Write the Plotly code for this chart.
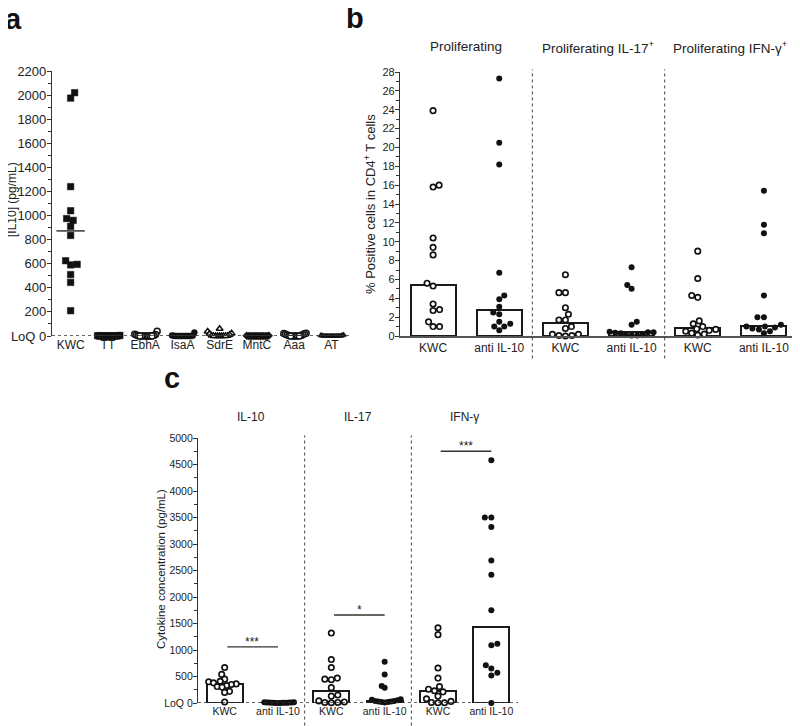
import numpy as np
import plotly.graph_objects as go

# reference canvas is 800x726; the page body adds an 8 px margin, so the
# figure is drawn 8 px smaller and every reference pixel position is shifted.
REF_W, REF_H = 800, 726
OFF = 8
W, H = REF_W - OFF, REF_H - OFF
FONT = "Liberation Sans, Arial, Helvetica, sans-serif"
TXT = "#222222"
AX = "#333333"

# ---------------- data: panel a ----------------
a_categories = ["KWC", "TT", "EbhA", "IsaA", "SdrE", "MntC", "Aaa", "AT"]
a_kwc = [2020, 1975, 1240, 1040, 975, 960, 910, 835, 625, 595, 590, 510, 445, 210]
a_tt = [5, 3, 2, 0, 0, 0, 0, 0, 0, 0, 0, 0, 0, 0]
a_ebha = [40, 15, 12, 8, 5, 3, 0, 0, 0, 0, 0, 0, 0, 0]
a_isaa = [30, 5, 3, 2, 0, 0, 0, 0, 0, 0, 0, 0, 0, 0]
a_sdre = [60, 38, 22, 18, 10, 5, 3, 0, 0, 0, 0, 0, 0, 0]
a_mntc = [3, 2, 0, 0, 0, 0, 0, 0, 0, 0, 0, 0, 0, 0]
a_aaa = [22, 20, 18, 15, 10, 8, 5, 3, 0, 0, 0, 0, 0, 0]
a_at = [10, 6, 4, 2, 0, 0, 0, 0, 0, 0, 0, 0, 0, 0]
a_values = [a_kwc, a_tt, a_ebha, a_isaa, a_sdre, a_mntc, a_aaa, a_at]
a_tickvals = [0, 200, 400, 600, 800, 1000, 1200, 1400, 1600, 1800, 2000, 2200]
a_ticktext = ["LoQ 0", "200", "400", "600", "800", "1000", "1200", "1400", "1600", "1800", "2000", "2200"]

# ---------------- data: panel b ----------------
b_categories = ["KWC", "anti IL-10", "KWC", "anti IL-10", "KWC", "anti IL-10"]
b_groups = ["Proliferating", "Proliferating IL-17<sup>+</sup>", "Proliferating IFN-γ<sup>+</sup>"]
b_prolif_kwc = [23.9, 16.0, 15.8, 10.4, 9.4, 8.6, 5.6, 5.3, 3.4, 2.8, 2.7, 1.5, 1.0, 1.0]
b_prolif_anti = [27.3, 20.5, 18.2, 6.7, 4.3, 3.9, 3.1, 2.5, 2.3, 1.5, 1.3, 1.0, 1.0, 0.6]
b_il17_kwc = [6.5, 4.6, 4.6, 3.0, 2.3, 1.7, 1.7, 1.0, 0.8, 0.18, 0.18, 0.05, 0.05, 0.0]
b_il17_anti = [7.3, 5.4, 5.0, 1.5, 1.2, 0.45, 0.4, 0.4, 0.35, 0.3, 0.2, 0.1, 0.05, 0.05]
b_ifn_kwc = [9.0, 6.1, 4.3, 4.1, 1.6, 1.3, 1.0, 0.75, 0.7, 0.6, 0.5, 0.3, 0.2, 0.1]
b_ifn_anti = [15.4, 11.8, 10.9, 4.3, 2.0, 2.0, 1.2, 1.0, 1.0, 0.9, 0.8, 0.7, 0.5, 0.3]
b_values = [b_prolif_kwc, b_prolif_anti, b_il17_kwc, b_il17_anti, b_ifn_kwc, b_ifn_anti]

# ---------------- data: panel c ----------------
c_categories = ["KWC", "anti IL-10", "KWC", "anti IL-10", "KWC", "anti IL-10"]
c_groups = ["IL-10", "IL-17", "IFN-γ"]
c_il10_kwc = [670, 540, 450, 410, 400, 380, 360, 350, 330, 310, 300, 220, 200, 20]
c_il10_anti = [15, 12, 10, 10, 8, 8, 5, 5, 5, 3, 3, 2, 0, 0]
c_il17_kwc = [1320, 820, 670, 470, 450, 440, 290, 150, 130, 40, 20, 10, 10, 5]
c_il17_anti = [780, 540, 320, 290, 70, 60, 50, 40, 40, 30, 30, 20, 20, 10]
c_ifn_kwc = [1420, 1290, 660, 470, 310, 260, 230, 210, 130, 80, 30, 10, 5, 5]
c_ifn_anti = [4580, 3500, 3500, 3320, 2690, 2420, 1750, 1120, 1090, 710, 650, 570, 520, 0]
c_values = [c_il10_kwc, c_il10_anti, c_il17_kwc, c_il17_anti, c_ifn_kwc, c_ifn_anti]
c_tickvals = [0, 500, 1000, 1500, 2000, 2500, 3000, 3500, 4000, 4500, 5000]
c_ticktext = ["LoQ 0", "500", "1000", "1500", "2000", "2500", "3000", "3500", "4000", "4500", "5000"]
c_sig_labels = ["***", "*", "***"]
c_sig_levels = [1060, 1660, 4750]

# ---------------- layout geometry (reference pixels) ----------------
A_X = (52, 350); A_Y = (336, 71)
B_X = (400, 797); B_Y = (336, 72)
C_X = (198, 518); C_Y = (703, 438)


def px(x):
    return (x - OFF) / W


def py(y):
    return 1 - (y - OFF) / H


def dom_x(p):
    return [px(p[0]), px(p[1])]


def dom_y(p):
    return [py(p[0]), py(p[1])]


def swarm(values, ypx, xpx, diam, max_half):
    vals = np.asarray(values, float)
    ys = vals * ypx
    order = np.argsort(vals, kind="stable")
    xs = np.zeros(len(vals))
    px_l, py_l = [], []
    flip = 1
    for i in order:
        y = ys[i]
        done = False
        for s in np.arange(0, 300, 0.5):
            cands = (0.0,) if s == 0 else (flip * s, -flip * s)
            for c in cands:
                if all((c - a) ** 2 + (y - b) ** 2 >= diam ** 2 for a, b in zip(px_l, py_l)):
                    xs[i] = c
                    done = True
                    break
            if done:
                break
        if xs[i] != 0:
            flip = -flip
        px_l.append(xs[i]); py_l.append(y)
    m = np.abs(xs).max()
    if m > max_half:
        xs *= max_half / m
    return xs / xpx


fig = go.Figure()

# ---------------- panel a ----------------
a_ypx = (A_Y[0] - A_Y[1]) / 2200.0
a_xpx = (A_X[1] - A_X[0]) / 8.0
a_symbols = ["square", "square", "circle", "circle", "triangle-up", "diamond", "circle", "triangle-up"]
a_filled = [True, True, False, True, False, True, False, True]
for i, vals in enumerate(a_values):
    off = swarm(vals, a_ypx, a_xpx, 6.5, 12)
    fig.add_trace(go.Scatter(
        x=i + off, y=vals, mode="markers", xaxis="x", yaxis="y", cliponaxis=False,
        marker=dict(symbol=a_symbols[i], size=6.5 if a_symbols[i] == "square" else 6,
                    color="#111111" if a_filled[i] else "white",
                    line=dict(color="#111111", width=1.5 if not a_filled[i] else 0.5)),
        showlegend=False, hoverinfo="y"))
# medians
mx, my = [], []
for i, vals in enumerate(a_values):
    m = float(np.median(vals))
    mx += [i - 0.38, i + 0.38, None]
    my += [m, m, None]
fig.add_trace(go.Scatter(x=mx, y=my, mode="lines", xaxis="x", yaxis="y", cliponaxis=False,
                         line=dict(color="#333333", width=1.5), showlegend=False, hoverinfo="skip"))


def bar_panel(values, xa, ya, ypx_, xpx_, max_half):
    med = [float(np.median(v)) for v in values]
    fig.add_trace(go.Bar(x=list(range(len(values))), y=med, xaxis=xa, yaxis=ya, width=0.68,
                         marker=dict(color="white", line=dict(color="#1a1a1a", width=2)),
                         showlegend=False, hoverinfo="y"))
    for i, vals in enumerate(values):
        off = swarm(vals, ypx_, xpx_, 6.2, max_half)
        filled = (i % 2 == 1)
        fig.add_trace(go.Scatter(
            x=i + off, y=vals, mode="markers", xaxis=xa, yaxis=ya, cliponaxis=False,
            marker=dict(symbol="circle", size=5.4 if not filled else 6,
                        color="#111111" if filled else "white",
                        line=dict(color="#111111", width=1.7 if not filled else 0)),
            showlegend=False, hoverinfo="y"))


bar_panel(b_values, "x2", "y2", (B_Y[0] - B_Y[1]) / 28.0, (B_X[1] - B_X[0]) / 6.0, 22)
bar_panel(c_values, "x3", "y3", (C_Y[0] - C_Y[1]) / 5000.0, (C_X[1] - C_X[0]) / 6.0, 16)

shapes = []
# LoQ dotted baselines
for xr, yr in (("x domain", "y"), ("x3 domain", "y3")):
    shapes.append(dict(type="line", xref=xr, yref=yr, x0=0, x1=1, y0=0, y1=0,
                       line=dict(color="#333333", width=1.5, dash="dot")))
# dashed separators
for xr, yr in (("x2", "y2 domain"), ("x3", "y3 domain")):
    for xv in (1.5, 3.5):
        shapes.append(dict(type="line", xref=xr, yref=yr, x0=xv, x1=xv, y0=-0.085, y1=1.01,
                           line=dict(color="#444444", width=1, dash="3px,3px")))
# significance lines
for k, lev in enumerate(c_sig_levels):
    shapes.append(dict(type="line", xref="x3", yref="y3", x0=2 * k + 0.05, x1=2 * k + 1.0,
                       y0=lev, y1=lev, line=dict(color="#333333", width=1.3)))

ann = []
for k, lab in enumerate(c_sig_labels):
    ann.append(dict(xref="x3", yref="y3", x=2 * k + 0.52, y=c_sig_levels[k], text=lab,
                    showarrow=False, xanchor="center", yanchor="bottom", yshift=-4,
                    font=dict(size=12, color=TXT, family=FONT)))
for k, g in enumerate(b_groups):
    ann.append(dict(xref="x2", yref="paper", x=2 * k + 0.5, y=py(47), text=g,
                    showarrow=False, xanchor="center", yanchor="middle",
                    font=dict(size=13.5, color=TXT, family=FONT)))
for k, g in enumerate(c_groups):
    ann.append(dict(xref="x3", yref="paper", x=2 * k + 0.5, y=py(417), text=g,
                    showarrow=False, xanchor="center", yanchor="middle",
                    font=dict(size=12, color=TXT, family=FONT)))
# axis titles
ann.append(dict(xref="paper", yref="paper", x=px(12), y=py(200), text="[IL10] (pg/mL)",
                textangle=-90, showarrow=False, xanchor="center", yanchor="middle",
                font=dict(size=12, color=TXT, family=FONT)))
ann.append(dict(xref="paper", yref="paper", x=px(370), y=py(204),
                text="% Positive cells in CD4<sup>+</sup> T cells",
                textangle=-90, showarrow=False, xanchor="center", yanchor="middle",
                font=dict(size=13, color=TXT, family=FONT)))
ann.append(dict(xref="paper", yref="paper", x=px(161), y=py(569),
                text="Cytokine concentration (pg/mL)",
                textangle=-90, showarrow=False, xanchor="center", yanchor="middle",
                font=dict(size=11.5, color=TXT, family=FONT)))
# panel letters
for lab, lx, ly in (("a", 13.5, 18.5), ("b", 355, 18), ("c", 171.5, 377.5)):
    ann.append(dict(xref="paper", yref="paper", x=px(lx), y=py(ly), text="<b>%s</b>" % lab,
                    showarrow=False, xanchor="center", yanchor="middle",
                    font=dict(size=29, color="#111111", family=FONT)))

common_x = dict(showgrid=False, zeroline=False, ticks="", fixedrange=True, automargin=False)
common_y = dict(showgrid=False, zeroline=False, showline=True, linecolor=AX, linewidth=1.2,
                ticks="outside", ticklen=4, tickwidth=1.1, tickcolor=AX, fixedrange=True,
                automargin=False, ticklabelstandoff=-2)

fig.update_layout(
    width=W, height=H, margin=dict(l=0, r=0, t=0, b=0, autoexpand=False),
    paper_bgcolor="white", plot_bgcolor="white",
    font=dict(family=FONT, color=TXT), bargap=0,
    showlegend=False, shapes=shapes, annotations=ann,
    xaxis=dict(domain=dom_x(A_X), range=[-0.5, 7.5], tickmode="array", tickvals=list(range(8)),
               ticktext=a_categories, showline=False, anchor="y",
               tickfont=dict(size=12, color=TXT), **common_x),
    yaxis=dict(domain=dom_y(A_Y), range=[0, 2200], tickmode="array", tickvals=a_tickvals,
               ticktext=a_ticktext, anchor="x", tickfont=dict(size=13, color=TXT),
               minor=dict(tickmode="linear", tick0=0, dtick=100, ticks="outside", ticklen=3,
                          tickcolor=AX, showgrid=False), **common_y),
    xaxis2=dict(domain=dom_x(B_X), range=[-0.5, 5.5], tickmode="array", tickvals=list(range(6)),
                ticktext=b_categories, showline=True, linecolor="#555555", linewidth=1.5,
                anchor="y2", tickfont=dict(size=12, color=TXT), **common_x),
    yaxis2=dict(domain=dom_y(B_Y), range=[0, 28], tickmode="linear", tick0=0, dtick=2,
                anchor="x2", tickfont=dict(size=11, color=TXT),
                minor=dict(tickmode="linear", tick0=0, dtick=1, ticks="outside", ticklen=3,
                           tickcolor=AX, showgrid=False), **common_y),
    xaxis3=dict(domain=dom_x(C_X), range=[-0.5, 5.5], tickmode="array", tickvals=list(range(6)),
                ticktext=c_categories, showline=False, anchor="y3",
                tickfont=dict(size=10.5, color=TXT), **common_x),
    yaxis3=dict(domain=dom_y(C_Y), range=[0, 5000], tickmode="array", tickvals=c_tickvals,
                ticktext=c_ticktext, anchor="x3", tickfont=dict(size=10.5, color=TXT),
                minor=dict(tickmode="linear", tick0=0, dtick=250, ticks="outside", ticklen=3,
                           tickcolor=AX, showgrid=False), **common_y),
)

fig.write_html("out.html")
